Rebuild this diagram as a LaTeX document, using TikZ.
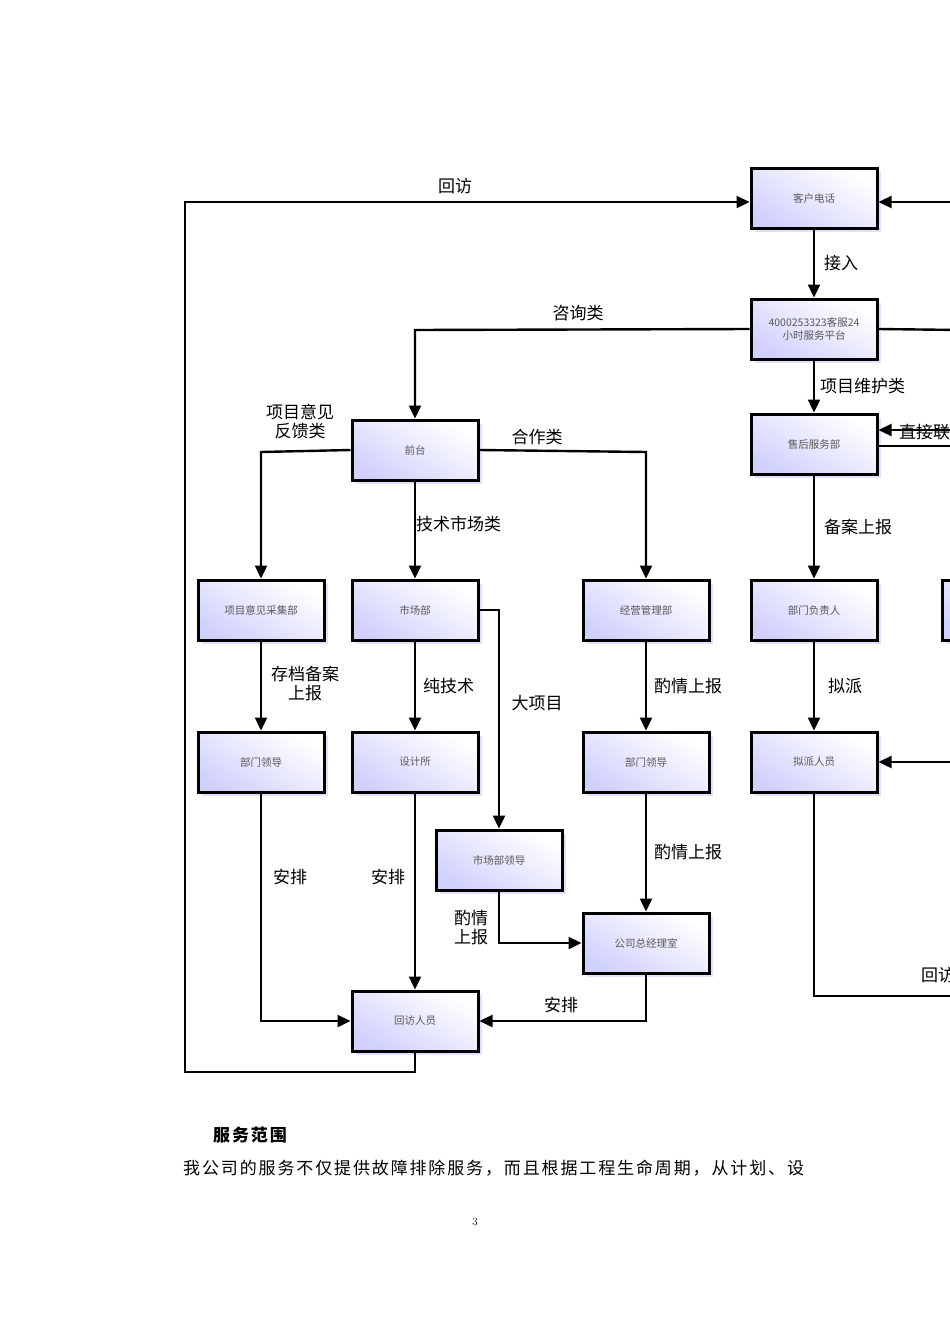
\documentclass[tikz,border=0pt]{standalone}
\usepackage{fontspec}
\newfontfamily\cjk{Noto Sans CJK SC}
\newfontfamily\cjkwide[LetterSpace=11]{Noto Sans CJK SC}
\usetikzlibrary{arrows.meta,shadows}
\begin{document}
\begin{tikzpicture}[x=1pt,y=-1pt,
  box/.style={draw=black,line width=3pt,minimum width=126pt,minimum height=60pt,inner sep=0pt,
    top color=white,bottom color=blue!18!white,shading angle=-30,
    drop shadow={shadow xshift=4pt,shadow yshift=-4pt,fill=blue!15,opacity=0.8},
    font=\cjk\fontsize{10.5}{12.5}\selectfont,text=black!65,align=center},
  conn/.style={line width=2.4pt,-{Triangle[length=13pt,width=12pt]}},
  line/.style={line width=2.4pt},
  lab/.style={font=\cjk\fontsize{17}{19}\selectfont,align=center,inner sep=1pt}]
\useasboundingbox (0,0) rectangle (950,1344);
\clip (0,0) rectangle (950,1344);
\node[box] (kh) at (814,198) {客户电话};
\node[box] (pt) at (814,329) {4000253323客服24\\小时服务平台};
\node[box] (sh) at (814,444) {售后服务部};
\node[box] (qt) at (415,450) {前台};
\node[box] (xm) at (261,610) {项目意见采集部};
\node[box] (sc) at (415,610) {市场部};
\node[box] (jy) at (646,610) {经营管理部};
\node[box] (fz) at (814,610) {部门负责人};
\node[box] (px) at (1005,610) {};
\node[box] (ld1) at (261,762) {部门领导};
\node[box] (sj) at (415,762) {设计所};
\node[box] (ld2) at (646,762) {部门领导};
\node[box] (np) at (814,762) {拟派人员};
\node[box] (scl) at (499,860) {市场部领导};
\node[box] (zj) at (646,943) {公司总经理室};
\node[box] (hf) at (415,1021) {回访人员};
\coordinate (R1) at (960,202);
\coordinate (R2) at (960,330);
\coordinate (R3) at (960,430);
\coordinate (R4) at (960,446);
\coordinate (R5) at (960,762);
\coordinate (R6) at (960,996);
\draw[conn] (hf.south) -- (415,1072) -- (185,1072) -- (185,202) -- (kh.west |- 0,202);
\node[lab] at (455,186) {回访};
\draw[conn] (R1) -- (kh.east |- R1);
\draw[conn] (kh) -- (pt) node[lab,midway,right=8pt] {接入};
\draw[conn] (pt.west) -- (415,330) -- (qt.north);
\node[lab] at (578,313) {咨询类};
\draw[line] (pt.east) -- (R2);
\draw[conn] (pt) -- (sh) node[lab,midway,right=4pt] {项目维护类};
\draw[conn] (R3) -- (sh.east |- R3);
\draw[line] (sh.east |- R4) -- (R4);
\node[lab,anchor=west] at (898,432) {直接联系};
\draw[conn] (qt.west) -- (261,452) -- (xm.north);
\node[lab] at (300,421) {项目意见\\反馈类};
\draw[conn] (qt.east) -- (646,452) -- (jy.north);
\node[lab] at (537,437) {合作类};
\draw[conn] (qt) -- (sc) node[lab,midway,right=-1pt,yshift=6pt] {技术市场类};
\draw[conn] (sh) -- (fz) node[lab,midway,right=8pt] {备案上报};
\draw[conn] (xm) -- (ld1);
\node[lab] at (305,683) {存档备案\\上报};
\draw[conn] (sc) -- (sj) node[lab,midway,right=6pt] {纯技术};
\draw[conn] (sc.east) -- (499,610) -- (scl.north);
\node[lab] at (537,703) {大项目};
\draw[conn] (jy) -- (ld2) node[lab,midway,right=6pt] {酌情上报};
\draw[conn] (fz) -- (np) node[lab,midway,right=12pt] {拟派};
\draw[conn] (R5) -- (np.east);
\draw[conn] (ld2) -- (zj) node[lab,midway,right=6pt] {酌情上报};
\draw[conn] (scl.south) -- (499,943) -- (zj.west);
\node[lab] at (471,928) {酌情\\上报};
\draw[conn] (ld1.south) -- (261,1021) -- (hf.west);
\node[lab] at (290,877) {安排};
\draw[conn] (sj) -- (hf);
\node[lab] at (388,877) {安排};
\draw[conn] (zj.south) -- (646,1021) -- (hf.east);
\node[lab] at (561,1005) {安排};
\draw[line] (np.south) -- (814,996) -- (R6);
\node[lab,anchor=west] at (920,975) {回访};
\node[font=\cjkwide\bfseries\fontsize{17}{19}\selectfont,anchor=west,inner sep=0pt] at (213,1135) {服务范围};
\node[font=\cjkwide\fontsize{17}{19}\selectfont,anchor=west,inner sep=0pt] at (183,1168) {我公司的服务不仅提供故障排除服务，而且根据工程生命周期，从计划、设};
\node[font=\fontsize{11}{13}\selectfont] at (475,1222) {3};
\end{tikzpicture}
\end{document}
